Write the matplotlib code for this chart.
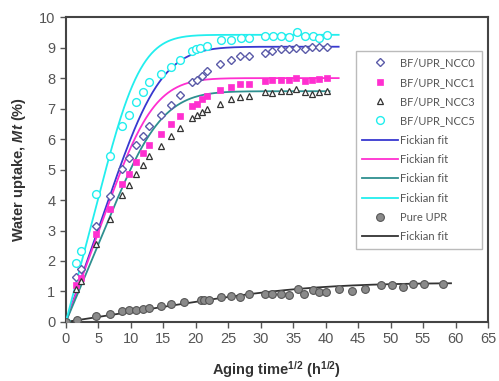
import numpy as np
import matplotlib
matplotlib.use("Agg")
import matplotlib.pyplot as plt

plt.rcParams['font.family'] = ['Liberation Sans', 'DejaVu Sans']
plt.rcParams['mathtext.fontset'] = 'custom'
plt.rcParams['mathtext.rm'] = 'Liberation Sans:bold'
plt.rcParams['mathtext.it'] = 'Liberation Sans:bold:italic'

# -----------------------------
# Datos
# -----------------------------
x_ncc = [0, 1.5, 2.4, 4.7, 6.8, 8.7, 9.7, 10.8, 11.9, 12.8, 14.6, 16.2, 17.6, 19.4, 20.2,
         20.9, 21.8, 23.8, 25.5, 26.8, 28.2, 30.6, 31.8, 33.1, 34.3, 35.5, 36.8, 37.9, 38.9, 40.2]
y_ncc0 = [0, 1.48, 1.74, 3.14, 4.12, 5.02, 5.38, 5.79, 6.11, 6.44, 6.80, 7.13, 7.44, 7.86, 7.95,
          8.06, 8.23, 8.46, 8.61, 8.74, 8.72, 8.83, 8.90, 8.97, 8.97, 8.99, 8.97, 9.02, 9.02, 9.02]
y_ncc1 = [0, 1.20, 1.45, 2.87, 3.71, 4.53, 4.86, 5.24, 5.55, 5.79, 6.15, 6.48, 6.75, 7.10, 7.15,
          7.32, 7.42, 7.62, 7.72, 7.81, 7.82, 7.90, 7.93, 7.95, 7.95, 8.00, 7.92, 7.95, 7.97, 8.00]
y_ncc3 = [0, 1.09, 1.34, 2.57, 3.38, 4.16, 4.48, 4.84, 5.14, 5.44, 5.76, 6.09, 6.37, 6.70, 6.80,
          6.88, 7.00, 7.15, 7.31, 7.39, 7.42, 7.53, 7.51, 7.57, 7.57, 7.65, 7.53, 7.48, 7.53, 7.57]
x_ncc5 = [0, 1.6, 2.4, 4.7, 6.8, 8.7, 9.7, 10.8, 11.9, 12.8, 14.6, 16.2, 17.6, 19.4, 20.1,
          20.7, 21.8, 23.9, 25.5, 26.9, 28.2, 30.6, 31.9, 33.2, 34.3, 35.6, 36.8, 38.1, 39.0, 40.2]
y_ncc5 = [0, 1.94, 2.32, 4.21, 5.44, 6.44, 6.80, 7.21, 7.53, 7.86, 8.15, 8.35, 8.61, 8.90, 8.95,
          8.98, 9.05, 9.26, 9.24, 9.32, 9.32, 9.37, 9.37, 9.37, 9.35, 9.50, 9.37, 9.37, 9.32, 9.43]

x_upr = [0, 1.7, 4.7, 6.8, 8.7, 9.7, 10.8, 11.9, 12.8, 14.6, 16.2, 18.2, 20.8, 21.3, 22.0, 23.9,
         25.5, 26.8, 28.2, 30.6, 31.8, 33.2, 34.3, 35.7, 36.6, 38.1, 39.0, 40.1, 42.1, 44.1, 46.0,
         48.5, 50.2, 51.9, 53.5, 55.2, 58.0]
y_upr = [0, 0.06, 0.19, 0.27, 0.35, 0.38, 0.40, 0.44, 0.46, 0.52, 0.58, 0.65, 0.71, 0.71, 0.71,
         0.82, 0.85, 0.82, 0.91, 0.92, 0.91, 0.92, 0.90, 1.07, 0.92, 1.04, 0.98, 0.99, 1.09, 1.01,
         1.09, 1.20, 1.20, 1.15, 1.23, 1.26, 1.25]

# parametros del ajuste Fickiano (Mm, a, x final)
fit_ncc0 = (9.03, 0.0089, 42.0)
fit_ncc1 = (8.00, 0.0105, 42.0)
fit_ncc3 = (7.57, 0.0088, 40.6)
fit_ncc5 = (9.42, 0.0145, 42.0)
fit_upr = (1.28, 0.0013, 59.3)


def fick(x, Mm, a):
    """Mt en funcion de sqrt(t)"""
    s = np.zeros_like(x)
    for n in range(30):
        k = 2 * n + 1
        s += np.exp(-k**2 * a * x**2) / k**2
    return Mm * (1 - 8 / np.pi**2 * s)


fig = plt.figure(figsize=(4.99, 3.81), dpi=100)
ax = fig.add_axes([0.132, 0.155, 0.846, 0.8])

c_blue = '#3838d0'
c_mag = '#ff2fd0'
c_teal = '#2e9090'
c_cyan = '#22eeee'
c_dia = '#5a5aa8'

ax.plot(x_ncc, y_ncc0, 'D', ms=4.2, mfc='white', mec=c_dia, mew=1, label='BF/UPR_NCC0', zorder=4)
ax.plot(x_ncc, y_ncc1, 's', ms=4.8, mfc=c_mag, mec=c_mag, mew=0.5, label='BF/UPR_NCC1', zorder=4)
ax.plot(x_ncc, y_ncc3, '^', ms=5.0, mfc='white', mec='#333333', mew=0.9, label='BF/UPR_NCC3', zorder=4)
ax.plot(x_ncc5, y_ncc5, 'o', ms=5.6, mfc='white', mec=c_cyan, mew=1, label='BF/UPR_NCC5', zorder=4)

for p, c in [(fit_ncc0, c_blue), (fit_ncc1, c_mag), (fit_ncc3, c_teal), (fit_ncc5, c_cyan)]:
    xx = np.linspace(0, p[2], 300)
    ax.plot(xx, fick(xx, p[0], p[1]), '-', color=c, lw=1.3, label='Fickian fit', zorder=3)

ax.plot(x_upr, y_upr, 'o', ms=5.6, mfc='#8a8a8a', mec='#555555', mew=0.8, label='Pure UPR', zorder=4)
xx = np.linspace(0, fit_upr[2], 300)
ax.plot(xx, fick(xx, fit_upr[0], fit_upr[1]), '-', color='#333333', lw=1.3, label='Fickian fit', zorder=3)

ax.set_xlim(0, 65)
ax.set_ylim(0, 10)
ax.set_xticks(np.arange(0, 66, 5))
ax.set_yticks(np.arange(0, 11, 1))
ax.tick_params(direction='out', length=4, width=1, colors='#555555', labelsize=10.5, labelcolor='#555555')
for s in ax.spines.values():
    s.set_linewidth(1.5)
    s.set_color('#444444')

ax.set_xlabel('Aging time$^{1/2}$ (h$^{1/2}$)', fontsize=10.5, fontweight='bold', color='#333333', labelpad=9)
ax.set_ylabel('Water uptake, $Mt$ (%)', fontsize=10.5, fontweight='bold', color='#333333', labelpad=8)

leg = ax.legend(loc='upper right', bbox_to_anchor=(0.985, 0.89), frameon=True, fancybox=False,
                prop={'family': 'Lato', 'size': 8}, handlelength=3.2, labelspacing=0.75,
                borderpad=0.6, handletextpad=0.2, borderaxespad=0)
leg.get_frame().set_edgecolor('#aaaaaa')
leg.get_frame().set_linewidth(1)
for t in leg.get_texts():
    t.set_color('#555555')

fig.savefig('out.png', dpi=100)
